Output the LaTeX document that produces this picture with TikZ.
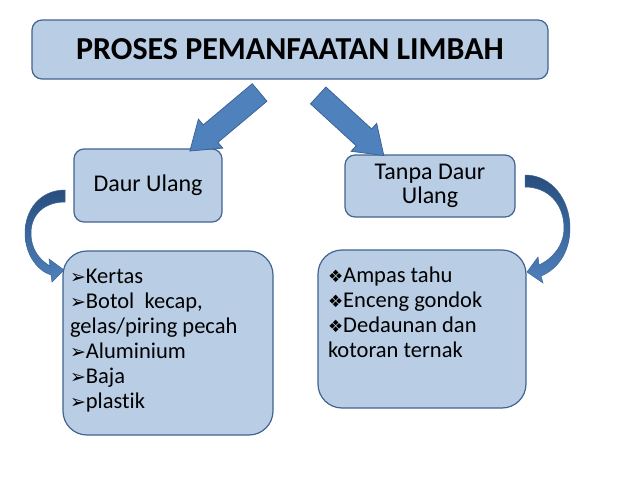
\documentclass[tikz,border=0pt]{standalone}
\usepackage{fontspec}
\setmainfont{Carlito}[Ligatures=NoCommon]
\newfontfamily\dingfont{DejaVu Sans}
\usetikzlibrary{shapes.arrows}
\definecolor{BoxFill}{RGB}{185,205,229}
\definecolor{BoxLine}{RGB}{65,100,145}
\definecolor{ArrFill}{RGB}{79,129,189}
\definecolor{ArrLine}{RGB}{60,100,150}
\definecolor{ArrDark}{RGB}{40,78,125}
\newcommand\arwbul{{\dingfont\fontsize{19}{19}\selectfont ➢}}
\newcommand\dmdbul{{\dingfont\fontsize{17}{17}\selectfont ❖}}

\begin{document}
\begin{tikzpicture}[x=1pt, y=-1pt,
  box/.style={draw=BoxLine, line width=1.2pt, fill=BoxFill, rounded corners=10pt, inner sep=0pt},
  listbox/.style={box, rounded corners=24pt},
  blockarr/.style={single arrow, draw=ArrLine, line width=0.8pt, fill=ArrFill, inner sep=11pt, minimum width=37pt, single arrow head extend=7.5pt, single arrow tip angle=70},
  bendarr/.style={draw=ArrLine, line width=0.5pt, top color=ArrDark, bottom color=ArrFill}]
  \useasboundingbox (0,0) rectangle (638,479);
  \node[box, minimum width=516pt, minimum height=59pt, font=\fontsize{32}{36}\selectfont\bfseries] (title) at (290,49.5) {PROSES PEMANFAATAN LIMBAH};
  \node[box, minimum width=148pt, minimum height=73pt, font=\fontsize{24}{24}\selectfont] (daur) at (148,185.5) {Daur Ulang};
  \node[box, minimum width=170pt, minimum height=62pt, align=center, font=\fontsize{24}{24}\selectfont] (tanpa) at (430,186) {Tanpa Daur\\Ulang};
  \node[listbox, minimum width=210pt, inner xsep=7pt] (daurlist) at (168,343) {\parbox[c][184pt][t]{196pt}{\raggedright\fontsize{22.5}{25}\selectfont
    \vspace*{15pt}\strut\arwbul Kertas\\
    \arwbul Botol~ kecap,\\
    gelas/piring pecah\\
    \arwbul Aluminium\\
    \arwbul Baja\\
    \arwbul plastik}};
  \node[listbox, minimum width=208pt, inner xsep=10pt] (tanpalist) at (422,329) {\parbox[c][158pt][t]{188pt}{\raggedright\fontsize{22.5}{25}\selectfont
    \vspace*{15pt}\strut\dmdbul Ampas tahu\\
    \dmdbul Enceng gondok\\
    \dmdbul Dedaunan dan\\
    kotoran ternak}};
  \node[blockarr, minimum height=91pt, rotate=220] (arrdaur) at (231,116.5) {};
  \node[blockarr, minimum height=89pt, rotate=-42.5] (arrtanpa) at (345,120) {};
  \path[bendarr] (65,190) .. controls (40,190) and (25,210) .. (25,233)
    .. controls (25,255) and (38,271) .. (51,275) -- (52,282) -- (64,270) -- (49,259) -- (50,266)
    .. controls (40,260) and (31,250) .. (31,233) .. controls (31,214) and (45,202) .. (65,202) -- cycle;
  \path[bendarr] (525,175) .. controls (552,175) and (570,200) .. (570,228)
    .. controls (570,254) and (556,270) .. (541,276) -- (543,283) -- (527,272) -- (538,257) -- (539,265)
    .. controls (552,259) and (564,246) .. (564,228) .. controls (564,204) and (548,187) .. (525,187) -- cycle;
\end{tikzpicture}
\end{document}
